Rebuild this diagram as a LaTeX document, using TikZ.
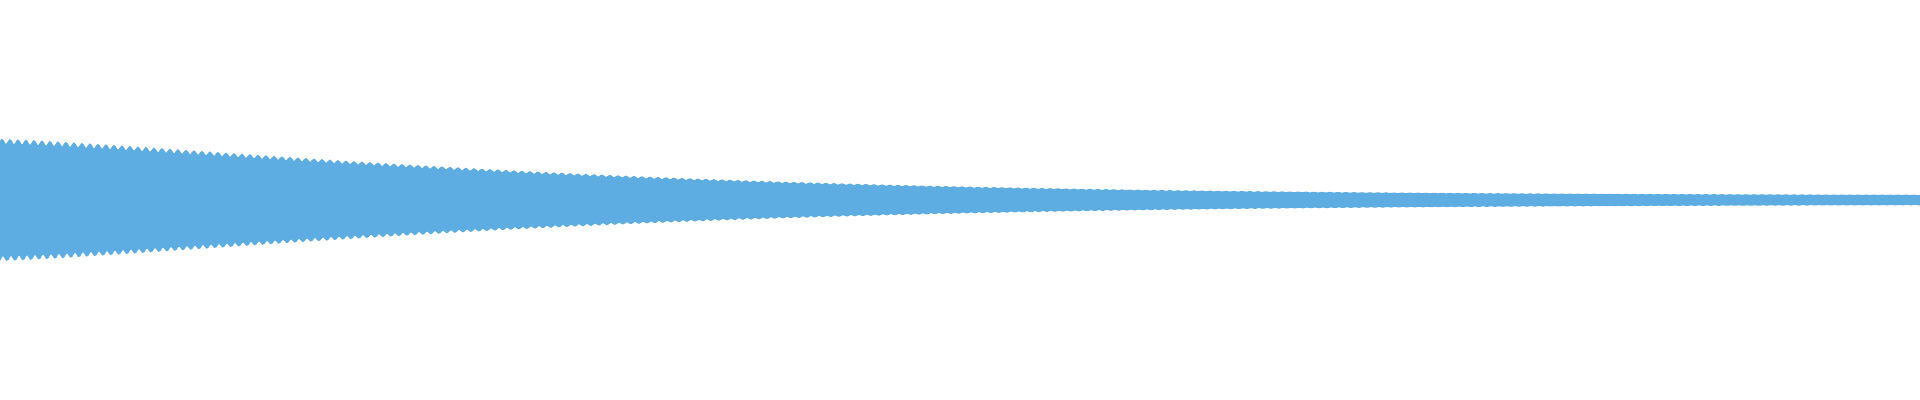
\documentclass[tikz,border=0pt]{standalone}
\definecolor{wavec}{HTML}{5DADE2}
\tikzset{wave/.style={fill=wavec,draw=wavec,line width=0.3pt}}
\begin{document}
\begin{tikzpicture}[x=0.01cm,y=0.01cm]
\useasboundingbox (0,0) rectangle (1920,400);
\fill[white] (0,0) rectangle (1920,400);
\fill[wave] plot[domain=0:1920,samples=1200] (\x,{200+(4+54*exp(-(\x/600)^1.3))*(1+0.045*sin(45*mod(\x,8)))})
 -- plot[domain=1920:0,samples=1200] (\x,{200-(4+54*exp(-(\x/600)^1.3))*(1+0.045*sin(45*mod(\x+3,8)))}) -- cycle;
\end{tikzpicture}
\end{document}
